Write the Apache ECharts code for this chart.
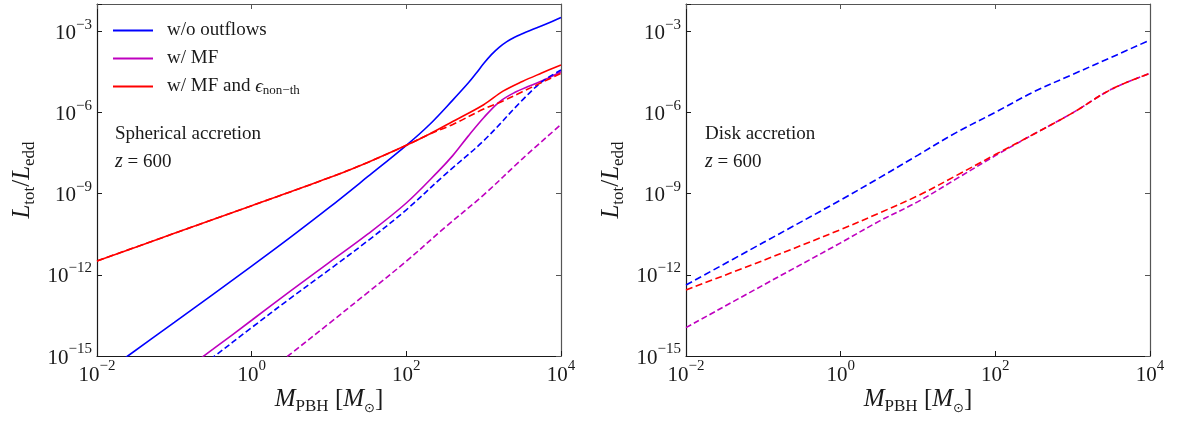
<!DOCTYPE html>
<html>
<head>
<meta charset="utf-8">
<script src="https://cdn.jsdelivr.net/npm/echarts@6/dist/echarts.min.js"></script>
<style>
html,body{margin:0;padding:0;background:#fff;}
#chart{width:1178px;height:421px;}
</style>
</head>
<body>
<div id="chart"></div>
<script>
// ---------- tick labels (exponents of 10) ----------
const xTickExps = [-2, 0, 2, 4];
const yTickExps = [-15, -12, -9, -6, -3];

// ---------- Spherical accretion (left panel) ----------
const sphM_noOut  = [0.01, 0.025, 0.1, 1, 3.16, 10, 31.6, 100, 200, 398, 631, 794, 1000, 1259, 1585, 1995, 2512, 3162, 3981, 6310, 10000];
const sphL_noOut  = [1.48e-16, 1.0e-15, 1.74e-14, 2.09e-12, 2.4e-11, 3.0e-10, 4.17e-9, 6.03e-8, 3.55e-7, 2.82e-6, 1.2e-5, 2.69e-5, 6.31e-5, 1.35e-4, 2.51e-4, 4.07e-4, 5.89e-4, 7.94e-4, 1.05e-3, 1.78e-3, 3.16e-3];

const sphM_mf     = [0.1, 0.316, 1, 3.16, 10, 31.6, 100, 251, 398, 631, 1000, 1585, 2512, 3981, 6310, 10000];
const sphL_mf     = [1.58e-16, 1.78e-15, 2.09e-14, 2.51e-13, 2.82e-12, 3.16e-11, 4.47e-10, 6.03e-9, 2.51e-8, 1.32e-7, 6.31e-7, 2.4e-6, 5.37e-6, 9.55e-6, 1.66e-5, 3.16e-5];

const sphM_mfEps  = [0.01, 0.1, 1, 10, 31.6, 100, 200, 398, 1000, 1778, 3162, 5623, 10000];
const sphL_mfEps  = [3.24e-12, 3.39e-11, 3.55e-10, 3.8e-9, 1.41e-8, 6.03e-8, 1.58e-7, 4.57e-7, 1.91e-6, 6.03e-6, 1.38e-5, 2.82e-5, 5.62e-5];

const sphM_noOutD = [0.1, 0.316, 1, 3.16, 10, 31.6, 100, 316, 1000, 3162, 5623, 10000];
const sphL_noOutD = [7.41e-17, 8.91e-16, 1.12e-14, 1.35e-13, 1.51e-12, 1.78e-11, 2.51e-10, 5.01e-9, 8.91e-8, 2.82e-6, 1.32e-5, 3.63e-5];

const sphM_mfD    = [1, 3.16, 10, 31.6, 100, 316, 1000, 3162, 10000];
const sphL_mfD    = [8.71e-17, 1.17e-15, 1.58e-14, 2.19e-13, 3.16e-12, 5.62e-11, 8.91e-10, 1.91e-8, 3.55e-7];

const sphM_mfEpsD = [0.01, 0.1, 1, 10, 31.6, 100, 200, 398, 1000, 1778, 3162, 5623, 10000];
const sphL_mfEpsD = [3.24e-12, 3.39e-11, 3.55e-10, 3.8e-9, 1.41e-8, 6.03e-8, 1.58e-7, 3.55e-7, 1.32e-6, 2.63e-6, 5.75e-6, 1.26e-5, 2.75e-5];

// ---------- Disk accretion (right panel) ----------
const dskM        = [0.01, 0.1, 1, 3.16, 10, 31.6, 100, 316, 1000, 3162, 10000];
const dskL_noOutD = [4.17e-13, 1.55e-11, 5.75e-10, 3.8e-9, 2.63e-8, 1.82e-7, 1.0e-6, 5.75e-6, 2.51e-5, 1.07e-4, 4.68e-4];
const dskL_mfEpsD = [2.75e-13, 3.39e-12, 4.68e-11, 1.91e-10, 8.32e-10, 4.68e-9, 2.75e-8, 1.58e-7, 9.55e-7, 7.08e-6, 2.75e-5];
const dskL_mfD    = [1.12e-14, 4.17e-13, 1.51e-11, 9.55e-11, 5.01e-10, 3.55e-9, 2.51e-8, 1.58e-7, 9.55e-7, 7.08e-6, 2.75e-5];

// ---------- styling ----------
const FONT = 'Liberation Serif';
const INK = '#1a1a1a';
const BLUE = '#0000ff', MAG = '#bf00bf', RED = '#ff0000';
const NAME_NOOUT = 'w/o outflows', NAME_MF = 'w/ MF', NAME_EPS = 'w/ MF and eps';

const tickRich = {
  b: {fontFamily: FONT, fontSize: 21, lineHeight: 28, color: INK, verticalAlign: 'middle', padding: [4, 0, 0, 0]},
  p: {fontFamily: FONT, fontSize: 15, lineHeight: 15, color: INK, verticalAlign: 'top'}
};
function tickFmt(list) {
  return function (v) {
    const e = Math.round(Math.log10(v));
    if (list.indexOf(e) < 0) return '';
    return '{b|10}{p|' + (e < 0 ? '\u2212' : '') + Math.abs(e) + '}';
  };
}

function makeAxes(grid, isX) {
  const common = {
    gridIndex: grid, type: 'log', logBase: 10,
    min: isX ? 0.01 : 1e-15, max: isX ? 1e4 : 1e-2,
    interval: isX ? 2 : 3,
    splitLine: {show: false}, minorTick: {show: false}, minorSplitLine: {show: false},
    axisPointer: {show: false}
  };
  const main = Object.assign({}, common, {
    position: isX ? 'bottom' : 'left',
    axisLine: {show: true, onZero: false, lineStyle: {color: INK, width: 1.2}},
    axisTick: {show: true, inside: true, length: 5, lineStyle: {color: INK, width: 1}},
    axisLabel: {show: true, margin: isX ? 3 : 5, formatter: tickFmt(isX ? xTickExps : yTickExps), rich: tickRich,
                showMinLabel: true, showMaxLabel: true, hideOverlap: false}
  });
  const mirror = Object.assign({}, common, {
    position: isX ? 'top' : 'right',
    axisLine: {show: true, onZero: false, lineStyle: {color: '#555', width: 1.2}},
    axisTick: {show: true, inside: true, length: 5, lineStyle: {color: '#555', width: 1}},
    axisLabel: {show: false}
  });
  return [main, mirror];
}

function line(name, M, L, color, dashed, grid, dash) {
  return {
    name: name, type: 'line', xAxisIndex: grid * 2, yAxisIndex: grid * 2,
    data: M.map((m, i) => [m, L[i]]),
    symbol: 'none', showSymbol: false, smooth: 0.35, clip: true, silent: true,
    lineStyle: {color: color, width: 1.6, type: dashed ? (dash || [7, 3.5]) : 'solid'},
    itemStyle: {color: color}
  };
}

const series = [
  line(NAME_NOOUT, sphM_noOut, sphL_noOut, BLUE, false, 0),
  line(NAME_MF, sphM_mf, sphL_mf, MAG, false, 0),
  line('sph noOut dashed', sphM_noOutD, sphL_noOutD, BLUE, true, 0, [6, 3]),
  line('sph mf dashed', sphM_mfD, sphL_mfD, MAG, true, 0, [6, 3]),
  line('sph eps dashed', sphM_mfEpsD, sphL_mfEpsD, RED, true, 0, [7, 3.5]),
  line(NAME_EPS, sphM_mfEps, sphL_mfEps, RED, false, 0),
  line('dsk noOut dashed', dskM, dskL_noOutD, BLUE, true, 1),
  line('dsk mf dashed', dskM, dskL_mfD, MAG, true, 1, [6, 3]),
  line('dsk eps dashed', dskM, dskL_mfEpsD, RED, true, 1)
];

const xA = makeAxes(0, true).concat(makeAxes(1, true));
const yA = makeAxes(0, false).concat(makeAxes(1, false));

const labRich = {
  i: {fontFamily: FONT, fontStyle: 'italic', fontSize: 25, lineHeight: 32, color: INK, verticalAlign: 'middle'},
  s: {fontFamily: FONT, fontSize: 17, lineHeight: 17, color: INK, verticalAlign: 'bottom'},
  n: {fontFamily: FONT, fontSize: 25, lineHeight: 32, color: INK, verticalAlign: 'middle'},
  o: {fontFamily: 'DejaVu Sans', fontSize: 13, lineHeight: 15, color: INK, verticalAlign: 'bottom'}
};
const yLabelText = '{i|L}{s|tot}{n|/}{i|L}{s|edd}';
const xLabelText = '{i|M}{s|PBH}{n| [}{i|M}{o|\u2299}{n|]}';
const noteRich = {
  t: {fontFamily: FONT, fontSize: 19, color: INK},
  i: {fontFamily: FONT, fontSize: 20, fontStyle: 'italic', color: INK}
};

function txt(x, y, text, rich, rot, align) {
  return {type: 'text', x: x, y: y, rotation: rot || 0, silent: true,
    style: {text: text, rich: rich, align: align || 'center', verticalAlign: 'middle', fill: INK}};
}

const option = {
  animation: false,
  backgroundColor: '#ffffff',
  grid: [
    {left: 97, top: 4, width: 464, height: 352, containLabel: false},
    {left: 686, top: 4, width: 464, height: 352, containLabel: false}
  ],
  xAxis: xA,
  yAxis: yA,
  legend: {
    show: true, orient: 'vertical', left: 113, top: 20, padding: 0,
    data: [NAME_NOOUT, NAME_MF, NAME_EPS],
    icon: 'rect', itemWidth: 40, itemHeight: 1.8, itemGap: 7,
    selectedMode: false,
    textStyle: {
      fontFamily: FONT, fontSize: 19, color: INK, lineHeight: 21, padding: [0, 0, 0, 9],
      rich: {
        t: {fontFamily: FONT, fontSize: 19, color: INK, lineHeight: 21},
        e: {fontFamily: FONT, fontSize: 19, fontStyle: 'italic', color: INK, lineHeight: 21},
        s: {fontFamily: FONT, fontSize: 13, color: INK, lineHeight: 12, verticalAlign: 'bottom'}
      }
    },
    formatter: function (name) {
      if (name === NAME_EPS) return '{t|w/ MF and }{e|\u03F5}{s|non\u2212th}';
      return '{t|' + name + '}';
    }
  },
  graphic: [
    txt(22, 180, yLabelText, labRich, Math.PI / 2),
    txt(611, 180, yLabelText, labRich, Math.PI / 2),
    txt(329, 399, xLabelText, labRich, 0),
    txt(918, 399, xLabelText, labRich, 0),
    txt(115, 134, '{t|Spherical accretion}', noteRich, 0, 'left'),
    txt(115, 162, '{i|z}{t| = 600}', noteRich, 0, 'left'),
    txt(705, 134, '{t|Disk accretion}', noteRich, 0, 'left'),
    txt(705, 162, '{i|z}{t| = 600}', noteRich, 0, 'left')
  ],
  series: series
};

const chart = echarts.init(document.getElementById('chart'), null, {renderer: 'canvas'});
chart.setOption(option);
</script>
</body>
</html>
